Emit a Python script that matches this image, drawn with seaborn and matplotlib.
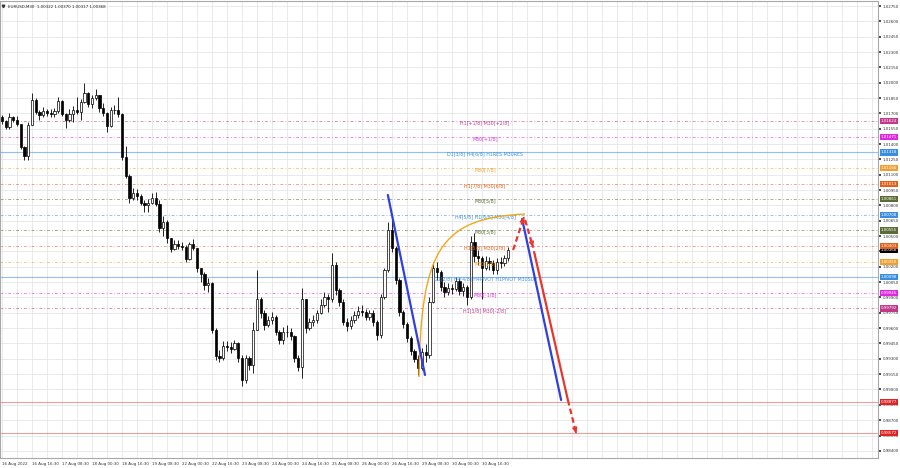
import numpy as np
import matplotlib
matplotlib.use("Agg")
import matplotlib.pyplot as plt
import matplotlib.transforms as mtransforms
from matplotlib.path import Path
from matplotlib.patches import PathPatch
import seaborn as sns

sns.set_theme(style="white")
plt.rcParams['font.family'] = ['DejaVu Sans']

chart_title = "EURUSD,M30  1.00322 1.00370 1.00317 1.00368"
first_open = 1.0166
closes = [
    1.0163, 1.0157, 1.0166, 1.0164, 1.0160, 1.0137, 1.0128, 1.0159, 1.0183, 1.0171,
    1.0168, 1.0172, 1.0170, 1.0169, 1.0172, 1.0182, 1.0169, 1.0164, 1.0169, 1.0173,
    1.0171, 1.0181, 1.0190, 1.0179, 1.0185, 1.0188, 1.0175, 1.0170, 1.0158, 1.0173,
    1.0173, 1.0169, 1.0127, 1.0109, 1.0087, 1.0092, 1.0089, 1.0082, 1.0080, 1.0082,
    1.0087, 1.0081, 1.0058, 1.0064, 1.0048, 1.0037, 1.0042, 1.0040, 1.0039, 1.0028,
    1.0042, 1.0038, 1.0019, 1.0013, 1.0002, 1.0004, 0.9958, 0.9933, 0.9931, 0.9943,
    0.9942, 0.9940, 0.9945, 0.9931, 0.9909, 0.9931, 0.9924, 0.9958, 0.9988, 0.9975,
    0.9963, 0.9968, 0.9971, 0.9956, 0.9948, 0.9956, 0.9956, 0.9952, 0.9931, 0.9922,
    0.9988, 0.9960, 0.9966, 0.9968, 0.9975, 0.9983, 0.9990, 0.9988, 1.0022, 0.9997,
    0.9986, 0.9966, 0.9962, 0.9968, 0.9973, 0.9977, 0.9976, 0.9971, 0.9975, 0.9966,
    0.9953, 0.9990, 1.0017, 1.0056, 1.0038, 1.0007, 0.9976, 0.9964, 0.9950, 0.9938,
    0.9930, 0.9921, 0.9937, 0.9934, 0.9986, 1.0019, 1.0015, 1.0000, 0.9995, 0.9999,
    0.9998, 1.0006, 0.9996, 1.0000, 0.9990, 1.0044, 1.0031, 1.0029, 1.0019, 1.0026,
    1.0024, 1.0017, 1.0025, 1.0024, 1.0029, 1.00368,
]
highs = [
    1.0168, 1.0164, 1.0170, 1.0167, 1.0167, 1.0160, 1.0138, 1.0162, 1.0190, 1.0185,
    1.0173, 1.0176, 1.0174, 1.0174, 1.0175, 1.0186, 1.0183, 1.0170, 1.0174, 1.0177,
    1.0186, 1.0184, 1.0200, 1.0191, 1.0188, 1.0194, 1.0188, 1.0180, 1.0171, 1.0176,
    1.0178, 1.0186, 1.0170, 1.0138, 1.0111, 1.0097, 1.0096, 1.0091, 1.0085, 1.0086,
    1.0092, 1.0093, 1.0085, 1.0070, 1.0066, 1.0048, 1.0046, 1.0046, 1.0044, 1.0041,
    1.0044, 1.0047, 1.0038, 1.0019, 1.0015, 1.0009, 1.0005, 0.9960, 0.9939, 0.9947,
    0.9947, 0.9946, 0.9948, 0.9946, 0.9934, 0.9934, 0.9933, 0.9966, 1.0017, 0.9990,
    0.9978, 0.9972, 0.9976, 0.9973, 0.9958, 0.9961, 0.9963, 0.9960, 0.9953, 0.9934,
    0.9999, 0.9988, 0.9970, 0.9973, 0.9978, 0.9988, 0.9995, 0.9993, 1.0033, 1.0025,
    0.9999, 0.9988, 0.9970, 0.9972, 0.9977, 0.9982, 0.9983, 0.9979, 0.9978, 0.9978,
    0.9968, 0.9993, 1.0019, 1.0064, 1.0070, 1.0040, 1.0009, 0.9978, 0.9966, 0.9952,
    0.9940, 0.9934, 0.9941, 0.9944, 0.9990, 1.0025, 1.0025, 1.0017, 1.0005, 1.0004,
    1.0003, 1.0010, 1.0009, 1.0004, 1.0002, 1.0050, 1.0053, 1.0036, 1.0031, 1.0031,
    1.0030, 1.0027, 1.0029, 1.0030, 1.0032, 1.0039,
]
lows = [
    1.0160, 1.0155, 1.0155, 1.0162, 1.0158, 1.0135, 1.0124, 1.0124, 1.0159, 1.0169,
    1.0164, 1.0166, 1.0167, 1.0166, 1.0166, 1.0170, 1.0167, 1.0156, 1.0162, 1.0162,
    1.0169, 1.0164, 1.0180, 1.0176, 1.0175, 1.0183, 1.0171, 1.0167, 1.0152, 1.0157,
    1.0169, 1.0166, 1.0124, 1.0107, 1.0082, 1.0085, 1.0085, 1.0080, 1.0074, 1.0074,
    1.0081, 1.0079, 1.0054, 1.0050, 1.0043, 1.0034, 1.0036, 1.0037, 1.0036, 1.0025,
    1.0027, 1.0036, 1.0015, 1.0005, 0.9997, 0.9995, 0.9955, 0.9929, 0.9927, 0.9929,
    0.9938, 0.9936, 0.9939, 0.9927, 0.9903, 0.9906, 0.9919, 0.9916, 0.9958, 0.9970,
    0.9958, 0.9961, 0.9964, 0.9953, 0.9944, 0.9944, 0.9951, 0.9948, 0.9927, 0.9918,
    0.9911, 0.9955, 0.9958, 0.9962, 0.9965, 0.9974, 0.9981, 0.9976, 0.9986, 0.9992,
    0.9982, 0.9963, 0.9957, 0.9959, 0.9965, 0.9970, 0.9972, 0.9968, 0.9968, 0.9962,
    0.9948, 0.9950, 0.9988, 1.0015, 1.0034, 1.0003, 0.9972, 0.9960, 0.9946, 0.9934,
    0.9927, 0.9914, 0.9919, 0.9927, 0.9931, 0.9985, 1.0007, 0.9996, 0.9990, 0.9992,
    0.9993, 0.9996, 0.9992, 0.9991, 0.9983, 0.9988, 1.0025, 1.0022, 0.9988, 1.0017,
    1.0017, 1.0013, 1.0013, 1.0019, 1.0021, 1.0026,
]

time_labels = ["16 Aug 2022", "16 Aug 16:30", "17 Aug 08:30", "18 Aug 00:30", "18 Aug 16:30",
               "19 Aug 08:30", "22 Aug 00:30", "22 Aug 16:30", "23 Aug 08:30", "24 Aug 00:30",
               "24 Aug 16:30", "25 Aug 08:30", "26 Aug 00:30", "26 Aug 16:30", "29 Aug 08:30",
               "30 Aug 00:30", "30 Aug 16:30"]
label_every = 8   # velas entre rótulos de tempo

# níveis de Murrey
levels = [1.01624, 1.01471, 1.01318, 1.01166, 1.01013, 1.00861, 1.00708,
          1.00555, 1.00403, 1.00250, 1.00098, 0.99945, 0.99792]
level_texts = ["H1[+1/8] M30[+2/8]", "M30[+1/8]", "D1[3/8] H4[6/8] H1RES M30RES", "M30[7/8]",
               "H1[7/8] M30[6/8]", "M30[5/8]", "H4[5/8] H1[6/8] M30[4/8]", "M30[3/8]",
               "H1[5/8] M30[2/8]", "M30[1/8]", "D1[2/8] H4[4/8] H4PIVOT H1PIVOT M30SUP",
               "M30[-1/8]", "H1[3/8] M30[-2/8]"]
level_colors = ["#c0398a", "#e028e0", "#3a8ee0", "#f0a030", "#e0601e", "#5a6b35", "#3a8ee0",
                "#5a6b35", "#e0601e", "#f0a030", "#3a8ee0", "#e028e0", "#c0398a"]
level_solid = [False, False, True, False, False, False, False,
               False, False, False, True, False, False]
target_levels = [0.98877, 0.98572]
last_price = 1.00368

# desenhos (índice da vela, preço)
blue1_x, blue1_y = [102.9, 112.8], [1.00902, 0.99142]
blue2_x, blue2_y = [138.7, 149.1], [1.00667, 0.98897]
curve_x = [111.2, 111.7, 116.8, 139.5]
curve_y = [0.99122, 1.00364, 1.00677, 1.00716]
red_solid_x, red_solid_y = [141.9, 150.9], [1.00345, 0.98897]
red_dashed = [((136.3, 1.00364), (139.2, 1.00687)),
              ((139.5, 1.00657), (141.6, 1.00393)),
              ((150.9, 0.98897), (153.1, 0.98574))]

closes = np.array(closes)
highs = np.array(highs)
lows = np.array(lows)
opens = np.r_[first_open, closes[:-1]]
highs = np.maximum(highs, np.maximum(opens, closes))
lows = np.minimum(lows, np.minimum(opens, closes))
idx = np.arange(len(closes))

fig = plt.figure(figsize=(9, 4.68), dpi=100)
ax = fig.add_axes([0, 10 / 468, 878 / 900, 457 / 468])
ax.set_xlim(-0.533, 233.6)
ax.set_ylim(0.98330, 1.02799)

# grade
yticks = np.round(np.arange(0.98400, 1.02751, 0.0015), 5)
ax.set_yticks(yticks)
ax.set_yticklabels([f"{v:.5f}" for v in yticks])
ax.set_xticks(np.arange(len(time_labels)) * label_every)
ax.set_xticklabels(time_labels, ha="left")
ax.set_xticks(np.arange(0, 234, 4), minor=True)
ax.grid(True, which="both", color="#e6e6e6", lw=0.6)
ax.set_axisbelow(True)
ax.yaxis.tick_right()
ax.tick_params(axis="y", which="major", length=2, pad=1.2, labelsize=2.9, colors="#333333")
ax.tick_params(axis="x", which="major", length=2, pad=0.6, labelsize=2.9, colors="#333333")
ax.tick_params(axis="x", which="minor", length=0)
for s in ax.spines.values():
    s.set_color("#a8a8a8")
    s.set_linewidth(0.8)

# linhas de nível
for lv, txt, col, solid in zip(levels, level_texts, level_colors, level_solid):
    if solid:
        ax.axhline(lv, color=col, lw=0.8, alpha=0.55, zorder=1)
    else:
        ax.axhline(lv, color=col, lw=0.7, alpha=0.55, ls=(0, (3, 2, 1, 2)), zorder=1)
    ax.text(128.8, lv - 0.00018, txt, color=col, fontsize=3.4, ha="center", va="center", zorder=6)
for lv in target_levels:
    ax.axhline(lv, color="#e06060", lw=0.8, alpha=0.6, zorder=1)

# velas
up = closes >= opens
ax.vlines(idx, lows, highs, color="black", lw=0.6, zorder=3)
ax.bar(idx[up], np.maximum(closes[up] - opens[up], 0.00002), bottom=opens[up], width=0.62,
       color="white", edgecolor="black", lw=0.5, zorder=4)
ax.bar(idx[~up], np.maximum(opens[~up] - closes[~up], 0.00002), bottom=closes[~up], width=0.62,
       color="black", edgecolor="black", lw=0.5, zorder=4)

# curva laranja e linhas de tendência
verts = list(zip(curve_x, curve_y))
path = Path(verts, [Path.MOVETO, Path.CURVE4, Path.CURVE4, Path.CURVE4])
ax.add_patch(PathPatch(path, fc="none", ec="#f0a818", lw=1.0, zorder=7))
sns.lineplot(x=blue1_x, y=blue1_y, ax=ax, color="#2f3fe0", lw=1.6, sort=False, zorder=8)
sns.lineplot(x=blue2_x, y=blue2_y, ax=ax, color="#2f3fe0", lw=1.6, sort=False, zorder=8)
sns.lineplot(x=red_solid_x, y=red_solid_y, ax=ax, color="#e8352e", lw=1.6, sort=False, zorder=8)
for (x0, y0), (x1, y1) in red_dashed:
    ax.plot([x0, x1], [y0, y1], color="#e8352e", lw=1.6, ls=(0, (2.5, 1.5)), zorder=8)
    ax.annotate("", xy=(x1, y1), xytext=(x0 + (x1 - x0) * 0.9, y0 + (y1 - y0) * 0.9),
                arrowprops=dict(arrowstyle="->", color="#e8352e", lw=1.4, mutation_scale=6),
                zorder=9)

# etiquetas de preço no eixo direito
trans = mtransforms.blended_transform_factory(ax.transAxes, ax.transData)
tag_box = dict(boxstyle="square,pad=0.28", ec="none")
ax.text(1.003, last_price, f"{last_price:.5f}", transform=trans, fontsize=2.9, color="white",
        ha="left", va="center", bbox=dict(tag_box, fc="black"), zorder=10, clip_on=False)
for lv, col in zip(levels, level_colors):
    ax.text(1.003, lv, f"{lv:.5f}", transform=trans, fontsize=2.9, color="white",
            ha="left", va="center", bbox=dict(tag_box, fc=col), zorder=11, clip_on=False)
for lv in target_levels:
    ax.text(1.003, lv, f"{lv:.5f}", transform=trans, fontsize=2.9, color="white",
            ha="left", va="center", bbox=dict(tag_box, fc="#e02424"), zorder=11, clip_on=False)

# título do símbolo
ax.text(0.009, 0.992, chart_title, transform=ax.transAxes, fontsize=2.9, color="#222222",
        ha="left", va="top", zorder=12)
ax.plot([0.003], [0.988], marker="v", ms=1.8, color="#333333", transform=ax.transAxes,
        clip_on=False, zorder=12)

fig.savefig("out.png", dpi=100)
plt.close(fig)
